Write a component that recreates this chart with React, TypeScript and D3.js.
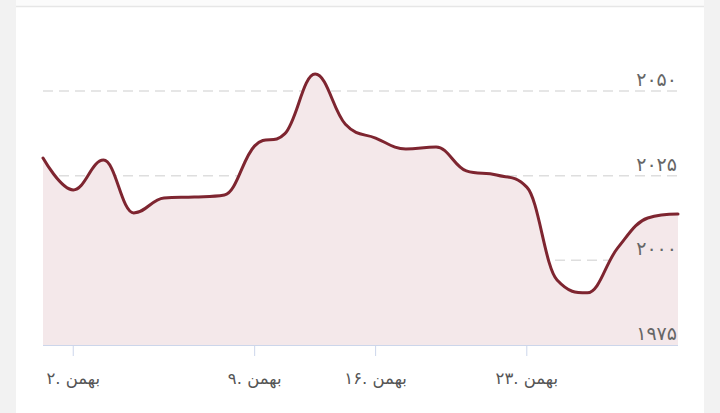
import React from "react";
import * as d3 from "d3";

const values: number[] = [
  2030.2, 2020.8, 2029.6, 2014.0, 2018.4, 2018.7, 2019.3, 2033.8, 2037.4, 2055.0,
  2040.2, 2036.1, 2032.9, 2033.5, 2026.4, 2025.2, 2021.6, 1994.2, 1990.4, 2003.6,
  2012.5, 2013.7,
];
const xTickIndex: number[] = [1, 7, 11, 16];
const xTickLabels: string[] = ["۲. بهمن", "۹. بهمن", "۱۶. بهمن", "۲۳. بهمن"];
const yTicks: number[] = [1975, 2000, 2025, 2050];
const yTickLabels: string[] = ["۱۹۷۵", "۲۰۰۰", "۲۰۲۵", "۲۰۵۰"];

const W = 720;
const H = 413;
const left = 43;
const right = 678;
const bottom = 345;

// d3 curve factory reproducing a Highcharts-style spline (smoothing 1.5, clamped extremes)
class SplineCurve {
  _context: any;
  _line: number = NaN;
  _xs: number[] = [];
  _ys: number[] = [];
  constructor(context: any) {
    this._context = context;
  }
  areaStart() {
    this._line = 0;
  }
  areaEnd() {
    this._line = NaN;
  }
  lineStart() {
    this._xs = [];
    this._ys = [];
  }
  point(x: number, y: number) {
    this._xs.push(+x);
    this._ys.push(+y);
  }
  lineEnd() {
    const xs = this._xs;
    const ys = this._ys;
    const n = xs.length;
    const ctx = this._context;
    if (n > 0) {
      if (this._line) ctx.lineTo(xs[0], ys[0]);
      else ctx.moveTo(xs[0], ys[0]);
      const rcx: number[] = new Array(n);
      const rcy: number[] = new Array(n);
      const lcx: number[] = new Array(n);
      const lcy: number[] = new Array(n);
      for (let i = 0; i < n; i++) {
        rcx[i] = xs[i];
        rcy[i] = ys[i];
        lcx[i] = xs[i];
        lcy[i] = ys[i];
        if (i > 0 && i < n - 1) {
          const px = xs[i], py = ys[i];
          const lx = xs[i - 1], ly = ys[i - 1];
          const nx = xs[i + 1], ny = ys[i + 1];
          let leftContX = (1.5 * px + lx) / 2.5;
          let leftContY = (1.5 * py + ly) / 2.5;
          let rightContX = (1.5 * px + nx) / 2.5;
          let rightContY = (1.5 * py + ny) / 2.5;
          let correction = 0;
          if (rightContX !== leftContX) {
            correction =
              ((rightContY - leftContY) * (rightContX - px)) / (rightContX - leftContX) +
              py -
              rightContY;
          }
          leftContY += correction;
          rightContY += correction;
          if (leftContY > ly && leftContY > py) {
            leftContY = Math.max(ly, py);
            rightContY = 2 * py - leftContY;
          } else if (leftContY < ly && leftContY < py) {
            leftContY = Math.min(ly, py);
            rightContY = 2 * py - leftContY;
          }
          if (rightContY > ny && rightContY > py) {
            rightContY = Math.max(ny, py);
            leftContY = 2 * py - rightContY;
          } else if (rightContY < ny && rightContY < py) {
            rightContY = Math.min(ny, py);
            leftContY = 2 * py - rightContY;
          }
          lcx[i] = leftContX;
          lcy[i] = leftContY;
          rcx[i] = rightContX;
          rcy[i] = rightContY;
        }
      }
      for (let i = 1; i < n; i++) {
        ctx.bezierCurveTo(rcx[i - 1], rcy[i - 1], lcx[i], lcy[i], xs[i], ys[i]);
      }
    }
    if (this._line || (this._line !== 0 && n === 1)) ctx.closePath();
    this._line = 1 - this._line;
  }
}
const curveSpline: any = (context: any) => new SplineCurve(context);

export default function App() {
  const x = d3.scaleLinear().domain([0, values.length - 1]).range([left, right]);
  const y = d3.scaleLinear().domain([1975, 2050]).range([bottom, 91]);
  const line = d3
    .line<number>()
    .x((_, i) => x(i))
    .y((d) => y(d))
    .curve(curveSpline);
  const area = d3
    .area<number>()
    .x((_, i) => x(i))
    .y0(bottom)
    .y1((d) => y(d))
    .curve(curveSpline);
  const font = "'DejaVu Sans', sans-serif";
  return (
    <svg
      width={W}
      height={H}
      style={{ position: "absolute", left: 0, top: 0, background: "#fff" }}
    >
      <rect x={0} y={0} width={16} height={H} fill="#f2f2f2" />
      <rect x={704} y={0} width={16} height={H} fill="#f2f2f2" />
      <rect x={16} y={0} width={688} height={6} fill="#fbfbfb" />
      <line x1={16} x2={704} y1={6.5} y2={6.5} stroke="#e6e6e6" strokeWidth={1.5} />
      {yTicks.slice(1).map((t) => (
        <line
          key={t}
          x1={left}
          x2={right}
          y1={y(t)}
          y2={y(t)}
          stroke="#dedede"
          strokeWidth={1.5}
          strokeDasharray="10,6"
        />
      ))}
      <path d={area(values) || ""} fill="#f4e8ea" />
      <path
        d={line(values) || ""}
        fill="none"
        stroke="#7e2530"
        strokeWidth={3}
        strokeLinejoin="round"
        strokeLinecap="round"
      />
      <line x1={left} x2={right} y1={bottom + 0.5} y2={bottom + 0.5} stroke="#ccd6eb" strokeWidth={1} />
      {xTickIndex.map((idx, k) => (
        <g key={idx}>
          <line x1={x(idx)} x2={x(idx)} y1={bottom} y2={bottom + 11} stroke="#ccd6eb" strokeWidth={1} />
          <text
            x={x(idx)}
            y={384}
            textAnchor="middle"
            fontFamily={font}
            fontSize={16.5}
            fill="#555"
          >
            {xTickLabels[k]}
          </text>
        </g>
      ))}
      {yTicks.map((t, k) => (
        <text
          key={t}
          x={677}
          y={y(t) - 5}
          textAnchor="end"
          fontFamily={font}
          fontSize={19}
          fill="#666"
        >
          {yTickLabels[k]}
        </text>
      ))}
    </svg>
  );
}
